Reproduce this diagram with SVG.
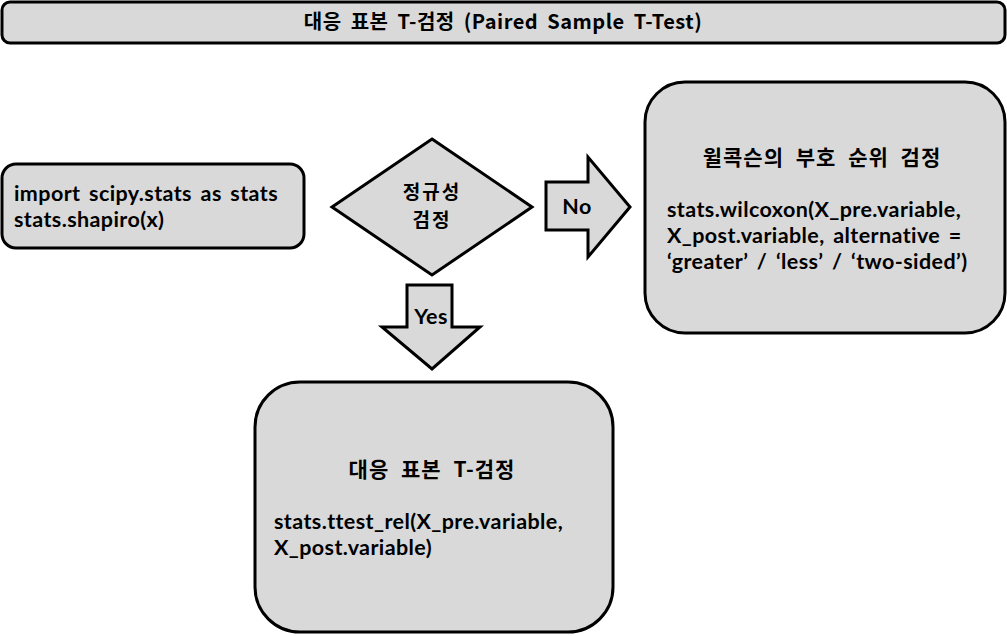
<svg xmlns="http://www.w3.org/2000/svg" width="1007" height="636" viewBox="0 0 1007 636">
<style>
.shape{fill:#d9d9d9;stroke:#000;stroke-width:3;stroke-linejoin:miter}
.t{font-family:"Noto Sans CJK KR","Liberation Sans",sans-serif;font-weight:bold;fill:#000}
.c{text-anchor:middle}
.code{font-family:Lato,"Liberation Sans",sans-serif;font-size:21.5px;letter-spacing:0.4px;word-spacing:3px}
.kr{font-size:21px;letter-spacing:1px;word-spacing:6px}
</style>
<rect width="1007" height="636" fill="#fff"/>
<g id="title">
<rect class="shape" x="2" y="2" width="1003" height="41" rx="8"/>
<text class="t c" x="503" y="29" font-size="20" letter-spacing="0.5" word-spacing="4">대응 표본 T-검정 (Paired Sample T-Test)</text>
</g>
<g id="import">
<rect class="shape" x="2" y="164" width="302" height="84" rx="14"/>
<text class="t code" x="14" y="201" word-spacing="6">import scipy.stats as stats</text>
<text class="t code" x="14" y="227">stats.shapiro(x)</text>
</g>
<g id="normality">
<polygon class="shape" points="432,139 532,207 432,275 332,207"/>
<text class="t c" x="432" y="199" font-size="19" letter-spacing="2">정규성</text>
<text class="t c" x="432" y="227" font-size="19" letter-spacing="2">검정</text>
</g>
<g id="connectors">
<polygon class="shape" points="546,182 588,182 588,157 630,207 588,257 588,230 546,230"/>
<text class="t c code" x="577" y="214" font-size="19">No</text>
<polygon class="shape" points="407,285 452,285 452,327 480,327 432,369 382,327 407,327"/>
<text class="t c code" x="431" y="324" font-size="19">Yes</text>
</g>
<g id="wilcoxon">
<rect class="shape" x="645" y="82" width="360" height="251" rx="40"/>
<text class="t c kr" x="822" y="165">윌콕슨의 부호 순위 검정</text>
<text class="t code" x="667" y="217">stats.wilcoxon(X_pre.variable,</text>
<text class="t code" x="667" y="243" word-spacing="6">X_post.variable, alternative =</text>
<text class="t code" x="667" y="269" word-spacing="5">‘greater’ / ‘less’ / ‘two-sided’)</text>
</g>
<g id="ttest">
<rect class="shape" x="255" y="382" width="358" height="250" rx="45"/>
<text class="t c kr" x="432" y="477">대응 표본 T-검정</text>
<text class="t code" x="274" y="529">stats.ttest_rel(X_pre.variable,</text>
<text class="t code" x="274" y="555">X_post.variable)</text>
</g>
</svg>
